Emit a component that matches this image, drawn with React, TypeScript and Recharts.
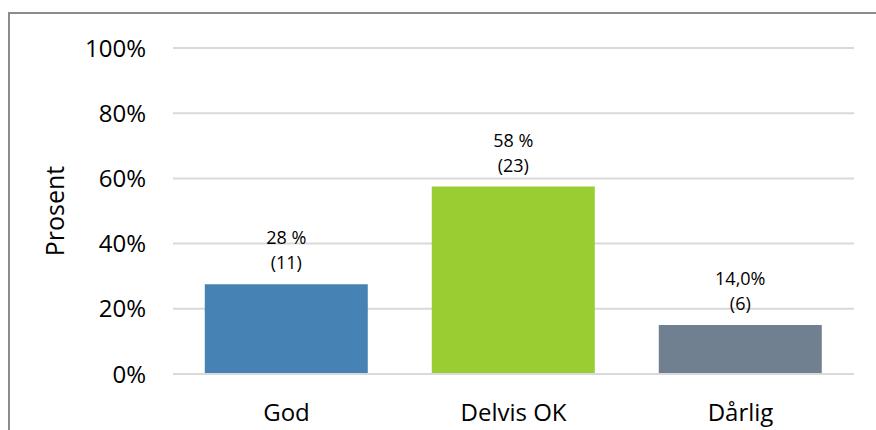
import { BarChart, Bar, XAxis, YAxis, CartesianGrid, Cell, LabelList } from "recharts";

const categories = ["God", "Delvis OK", "Dårlig"];
const shares = [27.5, 57.5, 15];
const counts = [11, 23, 6];
const shareLabels = ["28 %", "58 %", "14,0%"];
const yTicks = [0, 20, 40, 60, 80, 100];

const COLORS = ["#4682b4", "#9acd32", "#708090"];
const FONT = "'Open Sans', sans-serif";

const data = categories.map((name, i) => ({
  name,
  value: shares[i],
  count: counts[i],
  label: shareLabels[i],
}));

const renderLabel = (props: any) => {
  const { x, y, width, index } = props;
  const cx = x + width / 2;
  return (
    <g>
      <text x={cx} y={y - 47} textAnchor="middle" dominantBaseline="central" fontSize={18} fontFamily={FONT} fill="#000">
        {shareLabels[index]}
      </text>
      <text x={cx} y={y - 22} textAnchor="middle" dominantBaseline="central" fontSize={18} fontFamily={FONT} fill="#000">
        ({counts[index]})
      </text>
    </g>
  );
};

export default function App() {
  return (
    <div
      style={{
        position: "fixed",
        left: 8,
        top: 12,
        width: 868,
        height: 418,
        boxSizing: "border-box",
        borderLeft: "2px solid #8c8c8c",
        borderTop: "2px solid #8c8c8c",
        background: "#fff",
        overflow: "hidden",
      }}
    >
      <BarChart
        width={850}
        height={416}
        data={data}
        margin={{ top: 34, right: 6, left: 0, bottom: 6 }}
        barCategoryGap="14%"
      >
        <CartesianGrid vertical={false} stroke="#d9d9d9" strokeWidth={2} />
        <XAxis
          dataKey="name"
          axisLine={{ stroke: "#d9d9d9", strokeWidth: 2 }}
          tickLine={false}
          tickMargin={24}
          height={50}
          tick={{ fill: "#000", fontSize: 24, fontFamily: FONT }}
        />
        <YAxis
          domain={[0, 100]}
          ticks={yTicks}
          tickFormatter={(v: number) => `${v}%`}
          axisLine={false}
          tickLine={false}
          tickSize={0}
          tickMargin={27}
          width={163}
          tick={{ fill: "#000", fontSize: 24, fontFamily: FONT }}
          label={{
            value: "Prosent",
            angle: -90,
            position: "insideLeft",
            dx: 40,
            style: { fill: "#000", fontSize: 25, fontFamily: FONT, textAnchor: "middle" },
          }}
        />
        <Bar dataKey="value" isAnimationActive={false}>
          {data.map((entry, index) => (
            <Cell key={`cell-${index}`} fill={COLORS[index % COLORS.length]} />
          ))}
          <LabelList dataKey="value" content={renderLabel} />
        </Bar>
      </BarChart>
    </div>
  );
}
